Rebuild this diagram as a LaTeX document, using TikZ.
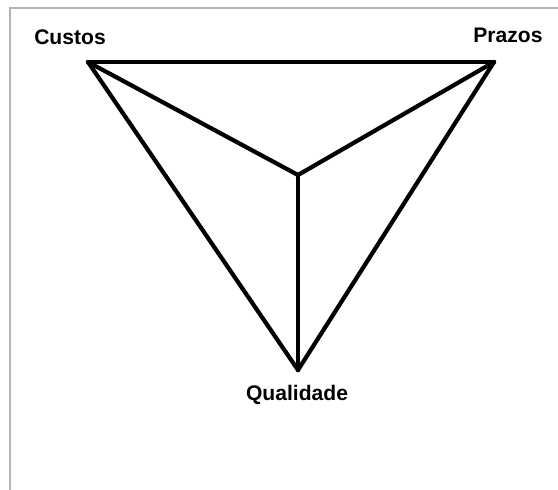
\documentclass[tikz,border=0pt]{standalone}
\usepackage{fontspec}
\setmainfont{Liberation Sans}
\usetikzlibrary{positioning}
\definecolor{frameGrey}{HTML}{B4B4B4}

\begin{document}
\begin{tikzpicture}[x=0.5mm,y=-0.5mm,every node/.style={font=\bfseries\fontsize{30}{36}\selectfont,inner sep=0pt},edge/.style={line width=6pt,line join=round,line cap=round}]
  \useasboundingbox (0,0) rectangle (558,490);
  \draw[frameGrey,line width=1.5pt] (10,490) -- (10,8) -- (558,8);
  \coordinate (cu) at (88,62);
  \coordinate (pr) at (494,62);
  \coordinate (qu) at (298,370);
  \coordinate (ce) at (298,175);
  \node[anchor=base] (lcu) at (70,45) {Custos};
  \node[anchor=base] (lpr) at (508,43) {Prazos};
  \node[anchor=base] (lqu) at (297,400) {Qualidade};
  \foreach \a/\b in {cu/pr,pr/qu,qu/cu,ce/cu,ce/pr,ce/qu}{\draw[edge] (\a) -- (\b);}
\end{tikzpicture}
\end{document}
